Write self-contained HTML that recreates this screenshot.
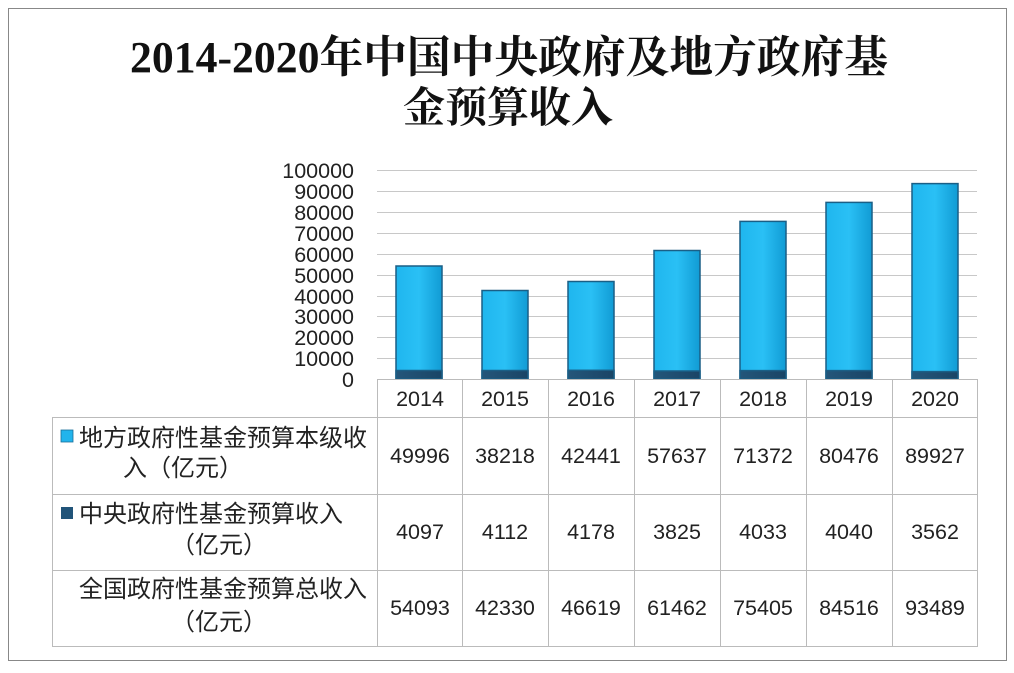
<!DOCTYPE html>
<html><head><meta charset="utf-8"><style>
body{margin:0;background:#fff;width:1014px;height:668px;overflow:hidden;font-family:"Liberation Sans","Noto Sans CJK SC",sans-serif;}
svg text{font-family:"Liberation Sans","Noto Sans CJK SC",sans-serif;fill:#222;}
</style></head><body>
<svg width="1014" height="668" viewBox="0 0 1014 668">
<defs>
<linearGradient id="g" x1="0" x2="1" y1="0" y2="0"><stop offset="0" stop-color="#1fb6ee"/><stop offset="0.5" stop-color="#2ac0f5"/><stop offset="1" stop-color="#119bd4"/></linearGradient>
<linearGradient id="d" x1="0" x2="1"><stop offset="0" stop-color="#24567a"/><stop offset="1" stop-color="#1a4566"/></linearGradient>
</defs>
<rect x="8.5" y="8.5" width="998" height="652" fill="#fff" stroke="#888" stroke-width="1"/>
<text x="509" y="72" text-anchor="middle" font-size="44" textLength="758" lengthAdjust="spacingAndGlyphs" style="font-family:'Liberation Serif','Noto Serif CJK SC',serif;font-weight:bold;fill:#111">2014-2020年中国中央政府及地方政府基</text>
<text x="508" y="122" text-anchor="middle" font-size="42" style="font-family:'Liberation Serif','Noto Serif CJK SC',serif;font-weight:bold;fill:#111">金预算收入</text>
<g stroke="#c8c8c8" stroke-width="1">
<line x1="377" x2="977" y1="170.5" y2="170.5"/><line x1="377" x2="977" y1="191.5" y2="191.5"/><line x1="377" x2="977" y1="212.5" y2="212.5"/><line x1="377" x2="977" y1="233.5" y2="233.5"/><line x1="377" x2="977" y1="254.5" y2="254.5"/><line x1="377" x2="977" y1="275.5" y2="275.5"/><line x1="377" x2="977" y1="296.5" y2="296.5"/><line x1="377" x2="977" y1="316.5" y2="316.5"/><line x1="377" x2="977" y1="337.5" y2="337.5"/><line x1="377" x2="977" y1="358.5" y2="358.5"/>
</g>
<g font-size="21.5" text-anchor="end">
<text x="354" y="178">100000</text><text x="354" y="199">90000</text><text x="354" y="220">80000</text><text x="354" y="241">70000</text><text x="354" y="262">60000</text><text x="354" y="283">50000</text><text x="354" y="304">40000</text><text x="354" y="324">30000</text><text x="354" y="345">20000</text><text x="354" y="366">10000</text><text x="354" y="387">0</text>
</g>
<g stroke="#1a5f86" stroke-width="1.5">
<rect x="396" y="266" width="46" height="113" fill="url(#g)"/><rect x="396" y="370.5" width="46" height="8.5" fill="url(#d)"/>
<rect x="482" y="290.5" width="46" height="88.5" fill="url(#g)"/><rect x="482" y="370.5" width="46" height="8.5" fill="url(#d)"/>
<rect x="568" y="281.5" width="46" height="97.5" fill="url(#g)"/><rect x="568" y="370.3" width="46" height="8.7" fill="url(#d)"/>
<rect x="654" y="250.5" width="46" height="128.5" fill="url(#g)"/><rect x="654" y="371" width="46" height="8" fill="url(#d)"/>
<rect x="740" y="221.4" width="46" height="157.6" fill="url(#g)"/><rect x="740" y="370.6" width="46" height="8.4" fill="url(#d)"/>
<rect x="826" y="202.4" width="46" height="176.6" fill="url(#g)"/><rect x="826" y="370.6" width="46" height="8.4" fill="url(#d)"/>
<rect x="912" y="183.6" width="46" height="195.4" fill="url(#g)"/><rect x="912" y="371.6" width="46" height="7.4" fill="url(#d)"/>
</g>
<g stroke="#bbb" stroke-width="1" fill="none">
<line x1="377" x2="977" y1="379.5" y2="379.5"/>
<rect x="52.5" y="417.5" width="925" height="229"/>
<line x1="52" x2="977" y1="494.5" y2="494.5"/><line x1="52" x2="977" y1="570.5" y2="570.5"/>
<line x1="377.5" x2="377.5" y1="379" y2="647"/><line x1="462.5" x2="462.5" y1="379" y2="647"/><line x1="548.5" x2="548.5" y1="379" y2="647"/><line x1="634.5" x2="634.5" y1="379" y2="647"/><line x1="720.5" x2="720.5" y1="379" y2="647"/><line x1="806.5" x2="806.5" y1="379" y2="647"/><line x1="892.5" x2="892.5" y1="379" y2="647"/><line x1="977.5" x2="977.5" y1="379" y2="647"/>
</g>
<g font-size="21.5" text-anchor="middle">
<text x="420" y="406">2014</text><text x="505" y="406">2015</text><text x="591" y="406">2016</text><text x="677" y="406">2017</text><text x="763" y="406">2018</text><text x="849" y="406">2019</text><text x="935" y="406">2020</text>
<text x="420" y="463">49996</text><text x="505" y="463">38218</text><text x="591" y="463">42441</text><text x="677" y="463">57637</text><text x="763" y="463">71372</text><text x="849" y="463">80476</text><text x="935" y="463">89927</text>
<text x="420" y="539">4097</text><text x="505" y="539">4112</text><text x="591" y="539">4178</text><text x="677" y="539">3825</text><text x="763" y="539">4033</text><text x="849" y="539">4040</text><text x="935" y="539">3562</text>
<text x="420" y="615">54093</text><text x="505" y="615">42330</text><text x="591" y="615">46619</text><text x="677" y="615">61462</text><text x="763" y="615">75405</text><text x="849" y="615">84516</text><text x="935" y="615">93489</text>
</g>
<rect x="61" y="430" width="12" height="12" fill="#22b4ec" stroke="#1a6f9a" stroke-width="0.8"/>
<rect x="61" y="507" width="12" height="12" fill="#215479"/>
<g font-size="24">
<text x="79" y="446">地方政府性基金预算本级收</text>
<text x="123" y="476">入（亿元）</text>
<text x="79" y="522">中央政府性基金预算收入</text>
<text x="171" y="553">（亿元）</text>
<text x="79" y="597">全国政府性基金预算总收入</text>
<text x="171" y="630">（亿元）</text>
</g>
</svg>
</body></html>
